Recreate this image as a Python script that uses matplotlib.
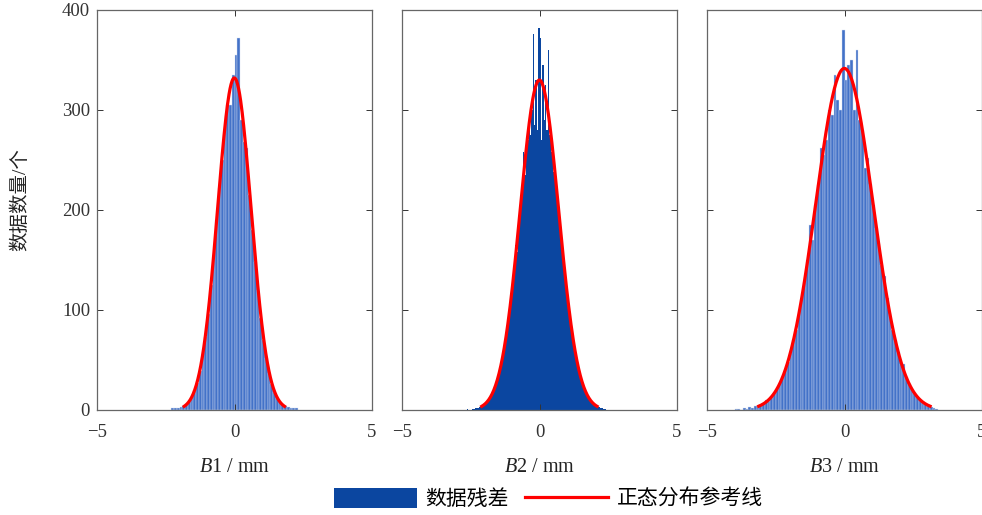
import numpy as np
import matplotlib
matplotlib.use("Agg")
import matplotlib.pyplot as plt
from matplotlib.patches import Patch
from matplotlib.lines import Line2D

plt.rcParams['font.family'] = ['Liberation Serif', 'Noto Sans CJK SC']
plt.rcParams['mathtext.fontset'] = 'custom'
plt.rcParams['mathtext.rm'] = 'Liberation Serif'
plt.rcParams['mathtext.it'] = 'Liberation Serif:italic'
plt.rcParams['axes.unicode_minus'] = True

# histogram counts (bin start, bin width, counts)
b1_start, b1_width = -2.3, 0.1
b1_counts = [2, 2, 2, 3, 4, 6, 9, 13, 19, 27, 39, 55, 73, 96, 125, 155, 190, 222,
             250, 280, 305, 305, 335, 355, 372, 290, 268, 262, 215, 180, 148, 120,
             92, 70, 52, 37, 26, 18, 12, 8, 6, 4, 3, 2, 2, 2]

b2_start, b2_width = -2.65, 0.05
b2_counts = [1, 0, 0, 0, 1, 1, 2, 2, 2, 3, 3, 4, 5, 6, 8, 9, 11, 14, 16, 20, 22,
             27, 31, 37, 43, 47, 56, 62, 72, 80, 92, 100, 114, 128, 136, 165, 158,
             192, 186, 205, 220, 258, 235, 255, 270, 290, 275, 300, 376, 285, 330,
             280, 382,
             372, 270, 345, 290, 325, 280, 360, 275, 258, 252, 238, 225, 220, 205,
             196, 176, 168, 150, 140, 124, 115, 99, 92, 80, 72, 62, 55, 48, 43, 35,
             31, 27, 22, 19, 16, 13, 11, 9, 7, 6, 5, 4, 3, 3, 2, 2, 1, 1]

b3_start, b3_width = -4.0, 0.1
b3_counts = [1, 1, 0, 2, 1, 3, 2, 4, 3, 5, 7, 10, 9, 13, 17, 22, 26, 33, 40, 48,
             57, 70, 80, 100, 112, 128, 150, 185, 170, 205, 225, 262, 255, 270, 300,
             295, 335, 310, 300, 380,
             330, 345, 350, 300, 360, 290, 280, 242, 252, 226, 205, 182, 166, 145,
             134, 112, 96, 80, 70, 58, 46, 46, 33, 26, 21, 17, 13, 10, 8, 6, 5, 3, 2, 1]

panels = [("B1", b1_start, b1_width, b1_counts, '#4372c8', '#d4def2'),
          ("B2", b2_start, b2_width, b2_counts, '#0b46a0', 'none'),
          ("B3", b3_start, b3_width, b3_counts, '#4372c8', '#d4def2')]

fig = plt.figure(figsize=(9.82, 5.15), dpi=100)
lefts = [97 / 982, 402 / 982, 707 / 982]
bottom, height, width = 1 - 410 / 515, 400 / 515, 275 / 982

for i, (name, start, bw, counts, fc, ec) in enumerate(panels):
    ax = fig.add_axes([lefts[i], bottom, width, height])
    counts = np.array(counts, dtype=float)
    edges = start + bw * np.arange(len(counts) + 1)
    centers = edges[:-1] + bw / 2
    ax.bar(edges[:-1], counts, width=bw, align='edge', color=fc,
           edgecolor=ec, linewidth=0.3 if ec != 'none' else 0)

    # normal reference line fitted to the histogram
    n = counts.sum()
    mu = (counts * centers).sum() / n
    sd = np.sqrt((counts * (centers - mu) ** 2).sum() / n)
    xs = np.linspace(mu - 3 * sd, mu + 3 * sd, 200)
    ys = n * bw * np.exp(-(xs - mu) ** 2 / (2 * sd ** 2)) / (sd * np.sqrt(2 * np.pi))
    ax.plot(xs, ys, color='#ff0000', linewidth=2.3)

    ax.set_xlim(-5, 5)
    ax.set_ylim(0, 400)
    ax.set_xticks([-5, 0, 5])
    ax.set_yticks([0, 100, 200, 300, 400])
    ax.tick_params(direction='in', top=True, right=True, length=4, width=0.7,
                   labelsize=13.5, colors='#333333', pad=5)
    ax.tick_params(axis='x', pad=10)
    if i > 0:
        ax.set_yticklabels([])
    for s in ax.spines.values():
        s.set_color('#666666')
        s.set_linewidth(0.9)
    ax.set_xlabel(r'$\it{B}$' + name[1] + ' / mm', fontsize=14.5, labelpad=12,
                  color='#222222')
    if i == 0:
        ax.set_ylabel('数据数量/个', fontsize=14, color='#222222')
        ax.yaxis.set_label_coords(-0.245, 0.525)

handles = [Patch(facecolor='#0b46a0', edgecolor='none'),
           Line2D([0], [0], color='#ff0000', linewidth=2.3)]
fig.legend(handles, ['数据残差', '正态分布参考线'], loc='center', ncol=2,
           bbox_to_anchor=(548 / 982, 1 - 499 / 515), frameon=False,
           fontsize=15, handlelength=4.0, handleheight=1.15, handletextpad=0.4,
           columnspacing=0.77, borderpad=0.1)

fig.savefig('out.png', dpi=100)
